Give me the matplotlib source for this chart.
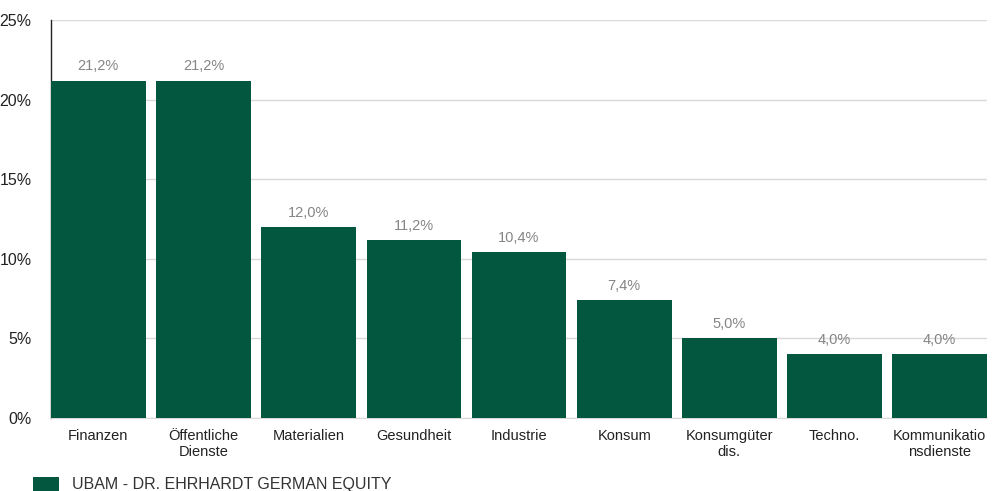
import matplotlib.pyplot as plt
from matplotlib.ticker import FuncFormatter

categories = ['Finanzen', 'Öffentliche\nDienste', 'Materialien', 'Gesundheit', 'Industrie',
              'Konsum', 'Konsumgüter\ndis.', 'Techno.', 'Kommunikatio\nnsdienste']
values = [21.2, 21.2, 12.0, 11.2, 10.4, 7.4, 5.0, 4.0, 4.0]
series_name = 'UBAM - DR. EHRHARDT GERMAN EQUITY'

plt.rcParams['font.family'] = ['Liberation Sans', 'DejaVu Sans']
green = '#03573F'

fig = plt.figure(figsize=(9.92, 4.91), dpi=100)
ax = fig.add_axes([0.0514, 0.1487, 0.9436, 0.8103])

x = range(len(categories))
bars = ax.bar(x, values, width=0.9, color=green, label=series_name, zorder=3)

for xi, v in zip(x, values):
    ax.text(xi, v + 0.45, f'{v:.1f}%'.replace('.', ','), ha='center', va='bottom',
            fontsize=10.5, color='#858585', zorder=4)

ax.set_xlim(-0.45, len(categories) - 0.55)
ax.set_ylim(0, 25)
ax.set_yticks([0, 5, 10, 15, 20, 25])
ax.yaxis.set_major_formatter(FuncFormatter(lambda v, p: f'{int(v)}%'))
ax.set_xticks(list(x))
ax.set_xticklabels(categories, fontsize=10.5, color='#222222', linespacing=1.15)
ax.tick_params(axis='y', labelsize=11.5, colors='#222222', length=0, pad=14)
ax.tick_params(axis='x', length=0, pad=8)

ax.grid(axis='y', color='#d9d9d9', linewidth=1, zorder=0)
for s in ['top', 'right']:
    ax.spines[s].set_visible(False)
ax.spines['bottom'].set_color('#d9d9d9')
ax.spines['left'].set_color('#222222')
ax.spines['left'].set_linewidth(1)

fig.legend(handles=[bars], labels=[series_name], loc='upper left',
           bbox_to_anchor=(0.027, 0.042), frameon=False, fontsize=11.5,
           handlelength=1.6, handleheight=1.0, handletextpad=0.8,
           labelcolor='#333333', borderaxespad=0)

fig.savefig('out.png', dpi=100)
